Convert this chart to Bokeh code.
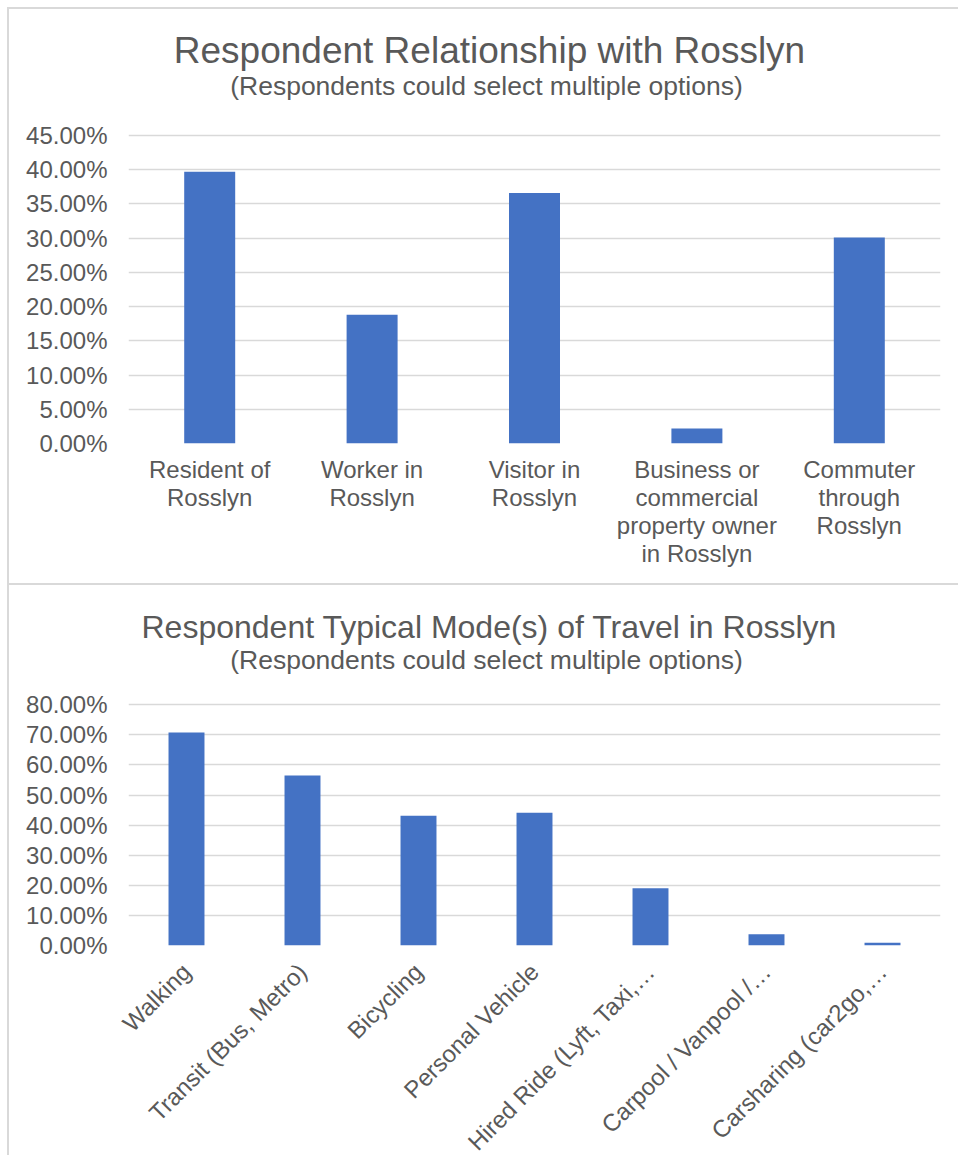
import math

from bokeh.embed import file_html
from bokeh.layouts import column
from bokeh.models import FactorRange, FixedTicker, Label, NumeralTickFormatter, Range1d
from bokeh.plotting import figure
from bokeh.resources import INLINE

FONT = "Liberation Sans"
TEXT_COLOR = "#595959"
GRID_COLOR = "#d9d9d9"
BAR_COLOR = "#4472c4"

# Chart 1: relationship with Rosslyn
rel_title = "Respondent Relationship with Rosslyn"
rel_subtitle = "(Respondents could select multiple options)"
rel_categories = [
    "Resident of\nRosslyn",
    "Worker in\nRosslyn",
    "Visitor in\nRosslyn",
    "Business or\ncommercial\nproperty owner\nin Rosslyn",
    "Commuter\nthrough\nRosslyn",
]
rel_values = [0.397, 0.188, 0.366, 0.022, 0.301]
rel_ticks = [0.0, 0.05, 0.10, 0.15, 0.20, 0.25, 0.30, 0.35, 0.40, 0.45]

# Chart 2: typical modes of travel
mode_title = "Respondent Typical Mode(s) of Travel in Rosslyn"
mode_subtitle = "(Respondents could select multiple options)"
mode_categories = [
    "Walking",
    "Transit (Bus, Metro)",
    "Bicycling",
    "Personal Vehicle",
    "Hired Ride (Lyft, Taxi,\u2026",
    "Carpool / Vanpool /\u2026",
    "Carsharing (car2go,\u2026",
]
mode_values = [0.708, 0.565, 0.431, 0.441, 0.190, 0.037, 0.009]
mode_ticks = [0.0, 0.10, 0.20, 0.30, 0.40, 0.50, 0.60, 0.70, 0.80]


def bar_chart(cats, vals, ticks, bar_width, width, height, bottom_border,
              axis_px, title, title_size, subtitle, title_y, subtitle_y):
    """Bar chart whose plot frame also holds the heading area above the axis.

    axis_px is the pixel height taken by the span 0..ticks[-1]; the range is
    stretched so the frame reaches the top of the canvas.
    """
    frame_px = height - bottom_border
    y_top = ticks[-1] * frame_px / axis_px
    p = figure(
        x_range=FactorRange(factors=cats, range_padding=0),
        y_range=Range1d(0, y_top),
        width=width, height=height,
        min_border_top=0, min_border_right=18,
        min_border_bottom=bottom_border, min_border_left=119,
        output_backend="svg", toolbar_location=None,
        background_fill_color="white", border_fill_color="white",
        styles={"background-color": "white"},
    )
    p.outline_line_color = None

    p.vbar(x=cats, top=vals, width=bar_width, fill_color=BAR_COLOR, line_color=None)

    p.xgrid.grid_line_color = None
    p.ygrid.grid_line_color = GRID_COLOR
    p.ygrid.grid_line_width = 1.5

    p.yaxis.ticker = FixedTicker(ticks=ticks)
    p.yaxis.formatter = NumeralTickFormatter(format="0.00%")

    for ax in (p.xaxis, p.yaxis):
        ax.axis_line_color = None
        ax.major_tick_line_color = None
        ax.minor_tick_line_color = None
        ax.major_tick_in = 0
        ax.major_tick_out = 0
        ax.major_label_text_font = FONT
        ax.major_label_text_font_size = "24px"
        ax.major_label_text_color = TEXT_COLOR

    p.yaxis.major_label_standoff = 21

    # headings, positioned in pixels from the frame's lower-left corner
    p.add_layout(Label(
        x=361, y=title_y, x_units="screen", y_units="screen",
        text=title, text_font=FONT, text_font_size=title_size, text_color=TEXT_COLOR,
        text_align="center", text_baseline="alphabetic",
    ))
    p.add_layout(Label(
        x=358, y=subtitle_y, x_units="screen", y_units="screen",
        text=subtitle, text_font=FONT, text_font_size="26.5px", text_color=TEXT_COLOR,
        text_align="center", text_baseline="alphabetic",
    ))
    return p


p1 = bar_chart(
    rel_categories, rel_values, rel_ticks, 0.314,
    width=949, height=574, bottom_border=140, axis_px=308,
    title=rel_title, title_size="37px", subtitle=rel_subtitle,
    title_y=393, subtitle_y=358,
)
p1.xaxis.major_label_standoff = 12
p1.xaxis.major_label_text_line_height = 1.045

p2 = bar_chart(
    mode_categories, mode_values, mode_ticks, 0.31,
    width=949, height=600, bottom_border=240, axis_px=240.7,
    title=mode_title, title_size="32px", subtitle=mode_subtitle,
    title_y=319, subtitle_y=286,
)
p2.xaxis.major_label_orientation = math.pi / 4
p2.xaxis.major_label_standoff = 22

p1.margin = (2, 0, 0, 2)
p2.margin = (2, 0, 0, 2)

# the grey backdrop shows through the 2px gaps as the panel borders;
# anything below the window's bottom edge is cut off
layout = column(p1, p2, spacing=0, margin=(7, 0, 0, 7),
                styles={"background-color": GRID_COLOR, "overflow": "hidden",
                        "max-height": "1148px"})

open("out.html", "w").write(file_html(layout, INLINE))
